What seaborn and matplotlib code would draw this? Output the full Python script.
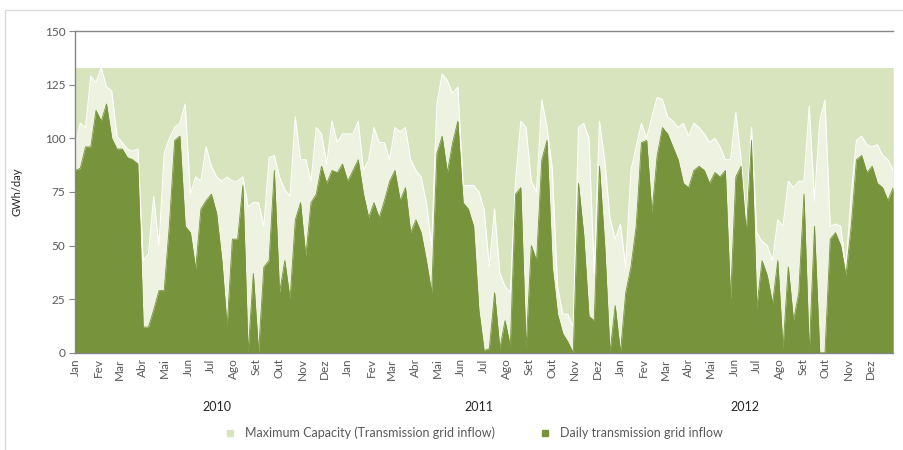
import numpy as np
import pandas as pd
import matplotlib
matplotlib.use("Agg")
import matplotlib.pyplot as plt
import matplotlib.dates as mdates
from matplotlib.lines import Line2D
import seaborn as sns

# weekly readings, Jan 2010 - Dec 2012 (GWh/day)
# lower edge of the daily swings (dark fill)
inflow_low = [85, 86, 96, 96, 113, 108, 116, 100, 95, 95,
              91, 90, 88, 12, 12, 20, 29, 29, 60, 99,
              101, 59, 56, 39, 67, 71, 74, 65, 43, 12,
              53, 53, 78, 0, 37, 0, 40, 43, 85, 28,
              43, 25, 62, 70, 45, 70, 74, 87, 79, 85,
              84, 88, 80, 85, 90, 74, 63, 70, 63, 71,
              80, 85, 71, 77, 56, 62, 56, 43, 28, 93,
              101, 84, 98, 108, 70, 67, 59, 20, 1, 2,
              28, 2, 15, 3, 74, 77, 2, 50, 43, 90,
              99, 40, 18, 9, 5, 0, 79, 55, 17, 15,
              87, 50, 0, 22, 0, 28, 40, 59, 98, 99,
              65, 92, 105, 102, 96, 90, 79, 77, 85, 87,
              85, 79, 84, 82, 85, 25, 82, 87, 56, 99,
              21, 43, 36, 23, 43, 2, 40, 15, 28, 74,
              0, 59, 0, 0, 53, 56, 50, 36, 59, 90,
              92, 84, 87, 79, 77, 71, 77]
# upper edge of the daily swings (white peaks)
inflow_high = [95, 107, 105, 129, 126, 133, 124, 122, 101, 98,
               95, 94, 95, 43, 46, 73, 50, 93, 100, 105,
               107, 116, 74, 82, 80, 96, 87, 82, 80, 82,
               80, 80, 82, 68, 70, 70, 59, 91, 92, 82,
               76, 73, 110, 90, 90, 80, 105, 102, 88, 108,
               98, 102, 102, 102, 108, 85, 90, 105, 98, 98,
               90, 105, 103, 105, 90, 85, 82, 70, 50, 116,
               130, 127, 121, 124, 78, 78, 78, 75, 67, 40,
               67, 37, 31, 28, 80, 108, 105, 80, 75, 118,
               105, 86, 31, 18, 18, 12, 105, 107, 100, 37,
               108, 90, 63, 53, 60, 40, 85, 96, 107, 100,
               110, 119, 118, 110, 108, 105, 107, 101, 107, 105,
               102, 98, 100, 96, 90, 90, 112, 90, 62, 105,
               56, 52, 50, 43, 62, 59, 80, 77, 80, 80,
               115, 71, 108, 118, 59, 60, 59, 40, 74, 99,
               101, 97, 96, 97, 92, 90, 85]
max_capacity = 133
month_names = ["Jan", "Fev", "Mar", "Abr", "Mai", "Jun",
               "Jul", "Ago", "Set", "Out", "Nov", "Dez"]
years = ["2010", "2011", "2012"]
year_label_dates = ["2010-07-10", "2011-06-25", "2012-06-15"]

dark = "#77933c"
light = "#d7e4bd"
pale = "#eef3e1"
grey = "#595959"

sns.set_style("white")
plt.rcParams["font.family"] = ["Lato", "DejaVu Sans"]

df = pd.DataFrame({
    "date": pd.date_range("2010-01-01", "2012-12-31", periods=len(inflow_low)),
    "low": inflow_low,
    "high": inflow_high,
})
cap = pd.DataFrame({"date": pd.date_range("2010-01-01", "2012-12-31", freq="D")})
cap["capacity"] = max_capacity

fig = plt.figure(figsize=(9.04, 4.5), dpi=100)
ax = fig.add_axes([0.083, 0.216, 0.905, 0.715])

ax.fill_between(cap["date"], 0, cap["capacity"], color=light, lw=0)
ax.fill_between(df["date"], df["low"], df["high"], color=pale, lw=0)
ax.fill_between(df["date"], 0, df["low"], color=dark, lw=0)
sns.lineplot(data=df, x="date", y="high", color="white", lw=0.8, ax=ax)
sns.lineplot(data=df, x="date", y="low", color=dark, lw=0.6, ax=ax)

ax.set_xlim(pd.Timestamp("2010-01-01"), pd.Timestamp("2012-12-31"))
ax.set_ylim(0, 150)
ax.set_yticks(range(0, 151, 25))
ax.set_xlabel("")
ax.set_ylabel("GWh/day", fontsize=8, color="#262626", labelpad=16)

ax.xaxis.set_major_locator(mdates.MonthLocator())
ax.xaxis.set_major_formatter(plt.FuncFormatter(
    lambda v, pos: month_names[mdates.num2date(v).month - 1]))
ax.tick_params(axis="x", labelsize=8.5, labelcolor=grey, rotation=90,
               length=0, pad=4)
ax.tick_params(axis="y", labelsize=8.5, labelcolor=grey, length=4,
               color="#868686", direction="out", left=True, pad=3)

for s in ["top", "left", "bottom"]:
    ax.spines[s].set_color("#868686")
    ax.spines[s].set_linewidth(1.0)
ax.spines["right"].set_visible(False)

for y, d in zip(years, year_label_dates):
    ax.text(pd.Timestamp(d), -0.17, y, transform=ax.get_xaxis_transform(),
            ha="center", va="center", fontsize=9, color="#262626")

handles = [
    Line2D([], [], marker="s", ls="none", markersize=5, color=light),
    Line2D([], [], marker="s", ls="none", markersize=5, color=dark),
]
fig.legend(handles, ["Maximum Capacity (Transmission grid inflow)",
                     "Daily transmission grid inflow"],
           loc="center", bbox_to_anchor=(0.52, 0.038), ncol=2, frameon=False,
           fontsize=9, labelcolor=grey, handletextpad=0.2, columnspacing=3)

fig.add_artist(plt.Rectangle((0.0055, -0.1), 1.2, 1.078, transform=fig.transFigure,
                             fill=False, ec="#d9d9d9", lw=1))

fig.savefig("out.png", dpi=100)
